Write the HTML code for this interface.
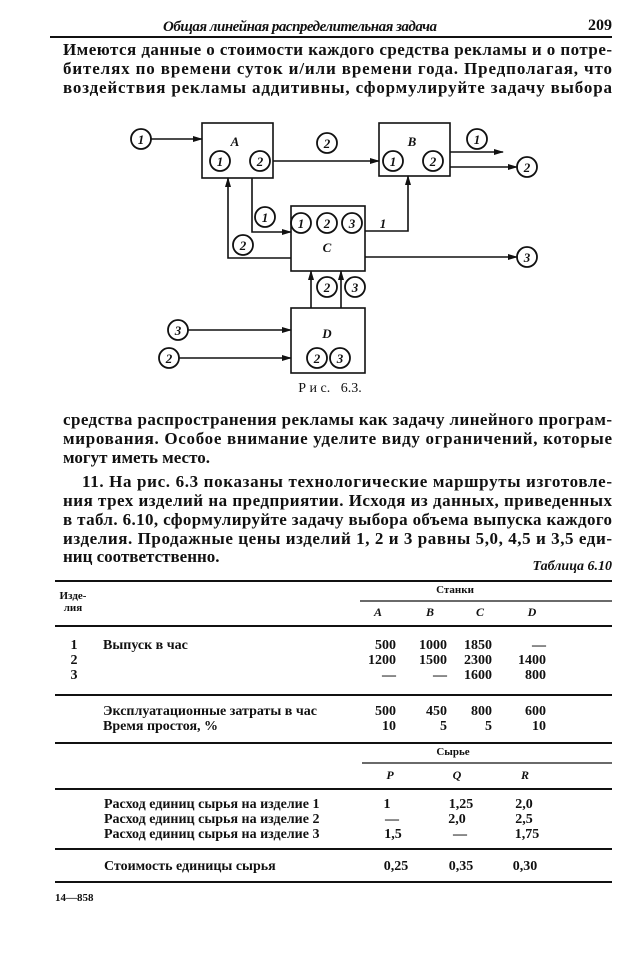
<!DOCTYPE html>
<html><head><meta charset="utf-8"><style>
html,body{margin:0;padding:0;background:#fff;}
svg{display:block;}
text{font-family:"Liberation Serif",serif;fill:#111;}
.b{font-size:17px;font-weight:bold;}
.t{font-size:14px;font-weight:bold;}
.i{font-style:italic;font-weight:bold;font-family:"Liberation Sans",sans-serif;}
</style></head><body>
<svg width="620" height="959" viewBox="0 0 620 959" xmlns="http://www.w3.org/2000/svg">
<defs><marker id="ar" markerWidth="10" markerHeight="6" refX="9" refY="3" orient="auto" markerUnits="userSpaceOnUse"><path d="M0,0 L10,3 L0,6 z" fill="#111"/></marker></defs>
<text x="300" y="31" text-anchor="middle" font-size="15" font-style="italic" font-weight="bold" textLength="274" lengthAdjust="spacing">Общая линейная распределительная задача</text>
<text x="612" y="30" text-anchor="end" font-size="16" font-weight="bold">209</text>
<line x1="50" y1="37" x2="612" y2="37" stroke="#111" stroke-width="2"/>
<text class="b" x="63" y="55" textLength="549" lengthAdjust="spacing">Имеются данные о стоимости каждого средства рекламы и о потре-</text>
<text class="b" x="63" y="74" textLength="549" lengthAdjust="spacing">бителях по времени суток и/или времени года. Предполагая, что</text>
<text class="b" x="63" y="93" textLength="549" lengthAdjust="spacing">воздействия рекламы аддитивны, сформулируйте задачу выбора</text>
<g fill="none" stroke="#111" stroke-width="1.6">
<rect x="202" y="123" width="71" height="55"/>
<rect x="379" y="123" width="71" height="53"/>
<rect x="291" y="206" width="74" height="65"/>
<rect x="291" y="308" width="74" height="65"/>
<line x1="151" y1="139" x2="202" y2="139" marker-end="url(#ar)"/>
<line x1="273" y1="161" x2="379" y2="161" marker-end="url(#ar)"/>
<line x1="450" y1="152" x2="503" y2="152" marker-end="url(#ar)"/>
<line x1="450" y1="167" x2="517" y2="167" marker-end="url(#ar)"/>
<polyline points="252,178 252,232 291,232" marker-end="url(#ar)"/>
<polyline points="291,258 228,258 228,178" marker-end="url(#ar)"/>
<polyline points="365,231 408,231 408,176" marker-end="url(#ar)"/>
<line x1="365" y1="257" x2="517" y2="257" marker-end="url(#ar)"/>
<line x1="311" y1="308" x2="311" y2="271" marker-end="url(#ar)"/>
<line x1="341" y1="308" x2="341" y2="271" marker-end="url(#ar)"/>
<line x1="188" y1="330" x2="291" y2="330" marker-end="url(#ar)"/>
<line x1="179" y1="358" x2="291" y2="358" marker-end="url(#ar)"/>
<g stroke-width="1.8">
<circle cx="141" cy="139" r="10"/><circle cx="220" cy="161" r="10"/><circle cx="260" cy="161" r="10"/>
<circle cx="327" cy="143" r="10"/><circle cx="393" cy="161" r="10"/><circle cx="433" cy="161" r="10"/>
<circle cx="477" cy="139" r="10"/><circle cx="527" cy="167" r="10"/>
<circle cx="265" cy="217" r="10"/><circle cx="243" cy="245" r="10"/>
<circle cx="301" cy="223" r="10"/><circle cx="327" cy="223" r="10"/><circle cx="352" cy="223" r="10"/>
<circle cx="527" cy="257" r="10"/>
<circle cx="327" cy="287" r="10"/><circle cx="355" cy="287" r="10"/>
<circle cx="178" cy="330" r="10"/><circle cx="169" cy="358" r="10"/>
<circle cx="317" cy="358" r="10"/><circle cx="340" cy="358" r="10"/>
</g></g>
<g class="i" font-size="13" text-anchor="middle">
<text x="141" y="144">1</text><text x="220" y="166">1</text><text x="260" y="166">2</text>
<text x="327" y="148">2</text><text x="393" y="166">1</text><text x="433" y="166">2</text>
<text x="477" y="144">1</text><text x="527" y="172">2</text>
<text x="265" y="222">1</text><text x="243" y="250">2</text>
<text x="301" y="228">1</text><text x="327" y="228">2</text><text x="352" y="228">3</text>
<text x="527" y="262">3</text>
<text x="327" y="292">2</text><text x="355" y="292">3</text>
<text x="178" y="335">3</text><text x="169" y="363">2</text>
<text x="317" y="363">2</text><text x="340" y="363">3</text>
<text x="235" y="146">A</text><text x="412" y="146">B</text><text x="327" y="252">C</text><text x="327" y="338">D</text>
<text x="383" y="228">1</text>
</g>
<text x="330" y="392" text-anchor="middle" font-size="14">Р и с.&#160;&#160; 6.3.</text>
<text class="b" x="63" y="425" textLength="549" lengthAdjust="spacing">средства распространения рекламы как задачу линейного програм-</text>
<text class="b" x="63" y="444" textLength="549" lengthAdjust="spacing">мирования. Особое внимание уделите виду ограничений, которые</text>
<text class="b" x="63" y="463">могут иметь место.</text>
<text class="b" x="82" y="487" textLength="530" lengthAdjust="spacing">11. На рис. 6.3 показаны технологические маршруты изготовле-</text>
<text class="b" x="63" y="506" textLength="549" lengthAdjust="spacing">ния трех изделий на предприятии. Исходя из данных, приведенных</text>
<text class="b" x="63" y="525" textLength="549" lengthAdjust="spacing">в табл. 6.10, сформулируйте задачу выбора объема выпуска каждого</text>
<text class="b" x="63" y="544" textLength="549" lengthAdjust="spacing">изделия. Продажные цены изделий 1, 2 и 3 равны 5,0, 4,5 и 3,5 еди-</text>
<text class="b" x="63" y="562">ниц соответственно.</text>
<text x="612" y="570" text-anchor="end" font-size="14" font-style="italic" font-weight="bold">Таблица 6.10</text>
<g stroke="#111">
<line x1="55" y1="581" x2="612" y2="581" stroke-width="2"/>
<line x1="360" y1="601" x2="612" y2="601" stroke-width="1.2"/>
<line x1="55" y1="626" x2="612" y2="626" stroke-width="2"/>
<line x1="55" y1="695" x2="612" y2="695" stroke-width="2"/>
<line x1="55" y1="743" x2="612" y2="743" stroke-width="2"/>
<line x1="362" y1="763" x2="612" y2="763" stroke-width="1.2"/>
<line x1="55" y1="789" x2="612" y2="789" stroke-width="2"/>
<line x1="55" y1="849" x2="612" y2="849" stroke-width="2"/>
<line x1="55" y1="882" x2="612" y2="882" stroke-width="2"/>
</g>
<g font-size="11" font-weight="bold">
<text x="73" y="599" text-anchor="middle">Изде-</text><text x="73" y="611" text-anchor="middle">лия</text>
<text x="455" y="593" text-anchor="middle">Станки</text>
<text x="453" y="755" text-anchor="middle">Сырье</text>
</g>
<g font-size="12" font-style="italic" font-weight="bold" text-anchor="middle">
<text x="378" y="616">A</text><text x="430" y="616">B</text><text x="480" y="616">C</text><text x="532" y="616">D</text>
<text x="390" y="779">P</text><text x="457" y="779">Q</text><text x="525" y="779">R</text>
</g>
<g class="t">
<text x="74" y="649" text-anchor="middle">1</text><text x="74" y="664" text-anchor="middle">2</text><text x="74" y="679" text-anchor="middle">3</text>
<text x="103" y="649">Выпуск в час</text>
<text x="103" y="715">Эксплуатационные затраты в час</text>
<text x="103" y="730">Время простоя, %</text>
<text x="104" y="808">Расход единиц сырья на изделие 1</text>
<text x="104" y="823">Расход единиц сырья на изделие 2</text>
<text x="104" y="838">Расход единиц сырья на изделие 3</text>
<text x="104" y="870">Стоимость единицы сырья</text>
<g text-anchor="end">
<text x="396" y="649">500</text><text x="447" y="649">1000</text><text x="492" y="649">1850</text><text x="546" y="649">—</text>
<text x="396" y="664">1200</text><text x="447" y="664">1500</text><text x="492" y="664">2300</text><text x="546" y="664">1400</text>
<text x="396" y="679">—</text><text x="447" y="679">—</text><text x="492" y="679">1600</text><text x="546" y="679">800</text>
<text x="396" y="715">500</text><text x="447" y="715">450</text><text x="492" y="715">800</text><text x="546" y="715">600</text>
<text x="396" y="730">10</text><text x="447" y="730">5</text><text x="492" y="730">5</text><text x="546" y="730">10</text>
</g>
<g text-anchor="middle">
<text x="387" y="808">1</text><text x="461" y="808">1,25</text><text x="524" y="808">2,0</text>
<text x="392" y="823">—</text><text x="457" y="823">2,0</text><text x="524" y="823">2,5</text>
<text x="393" y="838">1,5</text><text x="460" y="838">—</text><text x="527" y="838">1,75</text>
<text x="396" y="870">0,25</text><text x="461" y="870">0,35</text><text x="525" y="870">0,30</text>
</g>
</g>
<text x="55" y="901" font-size="11" font-weight="bold">14—858</text>
</svg>
</body></html>
